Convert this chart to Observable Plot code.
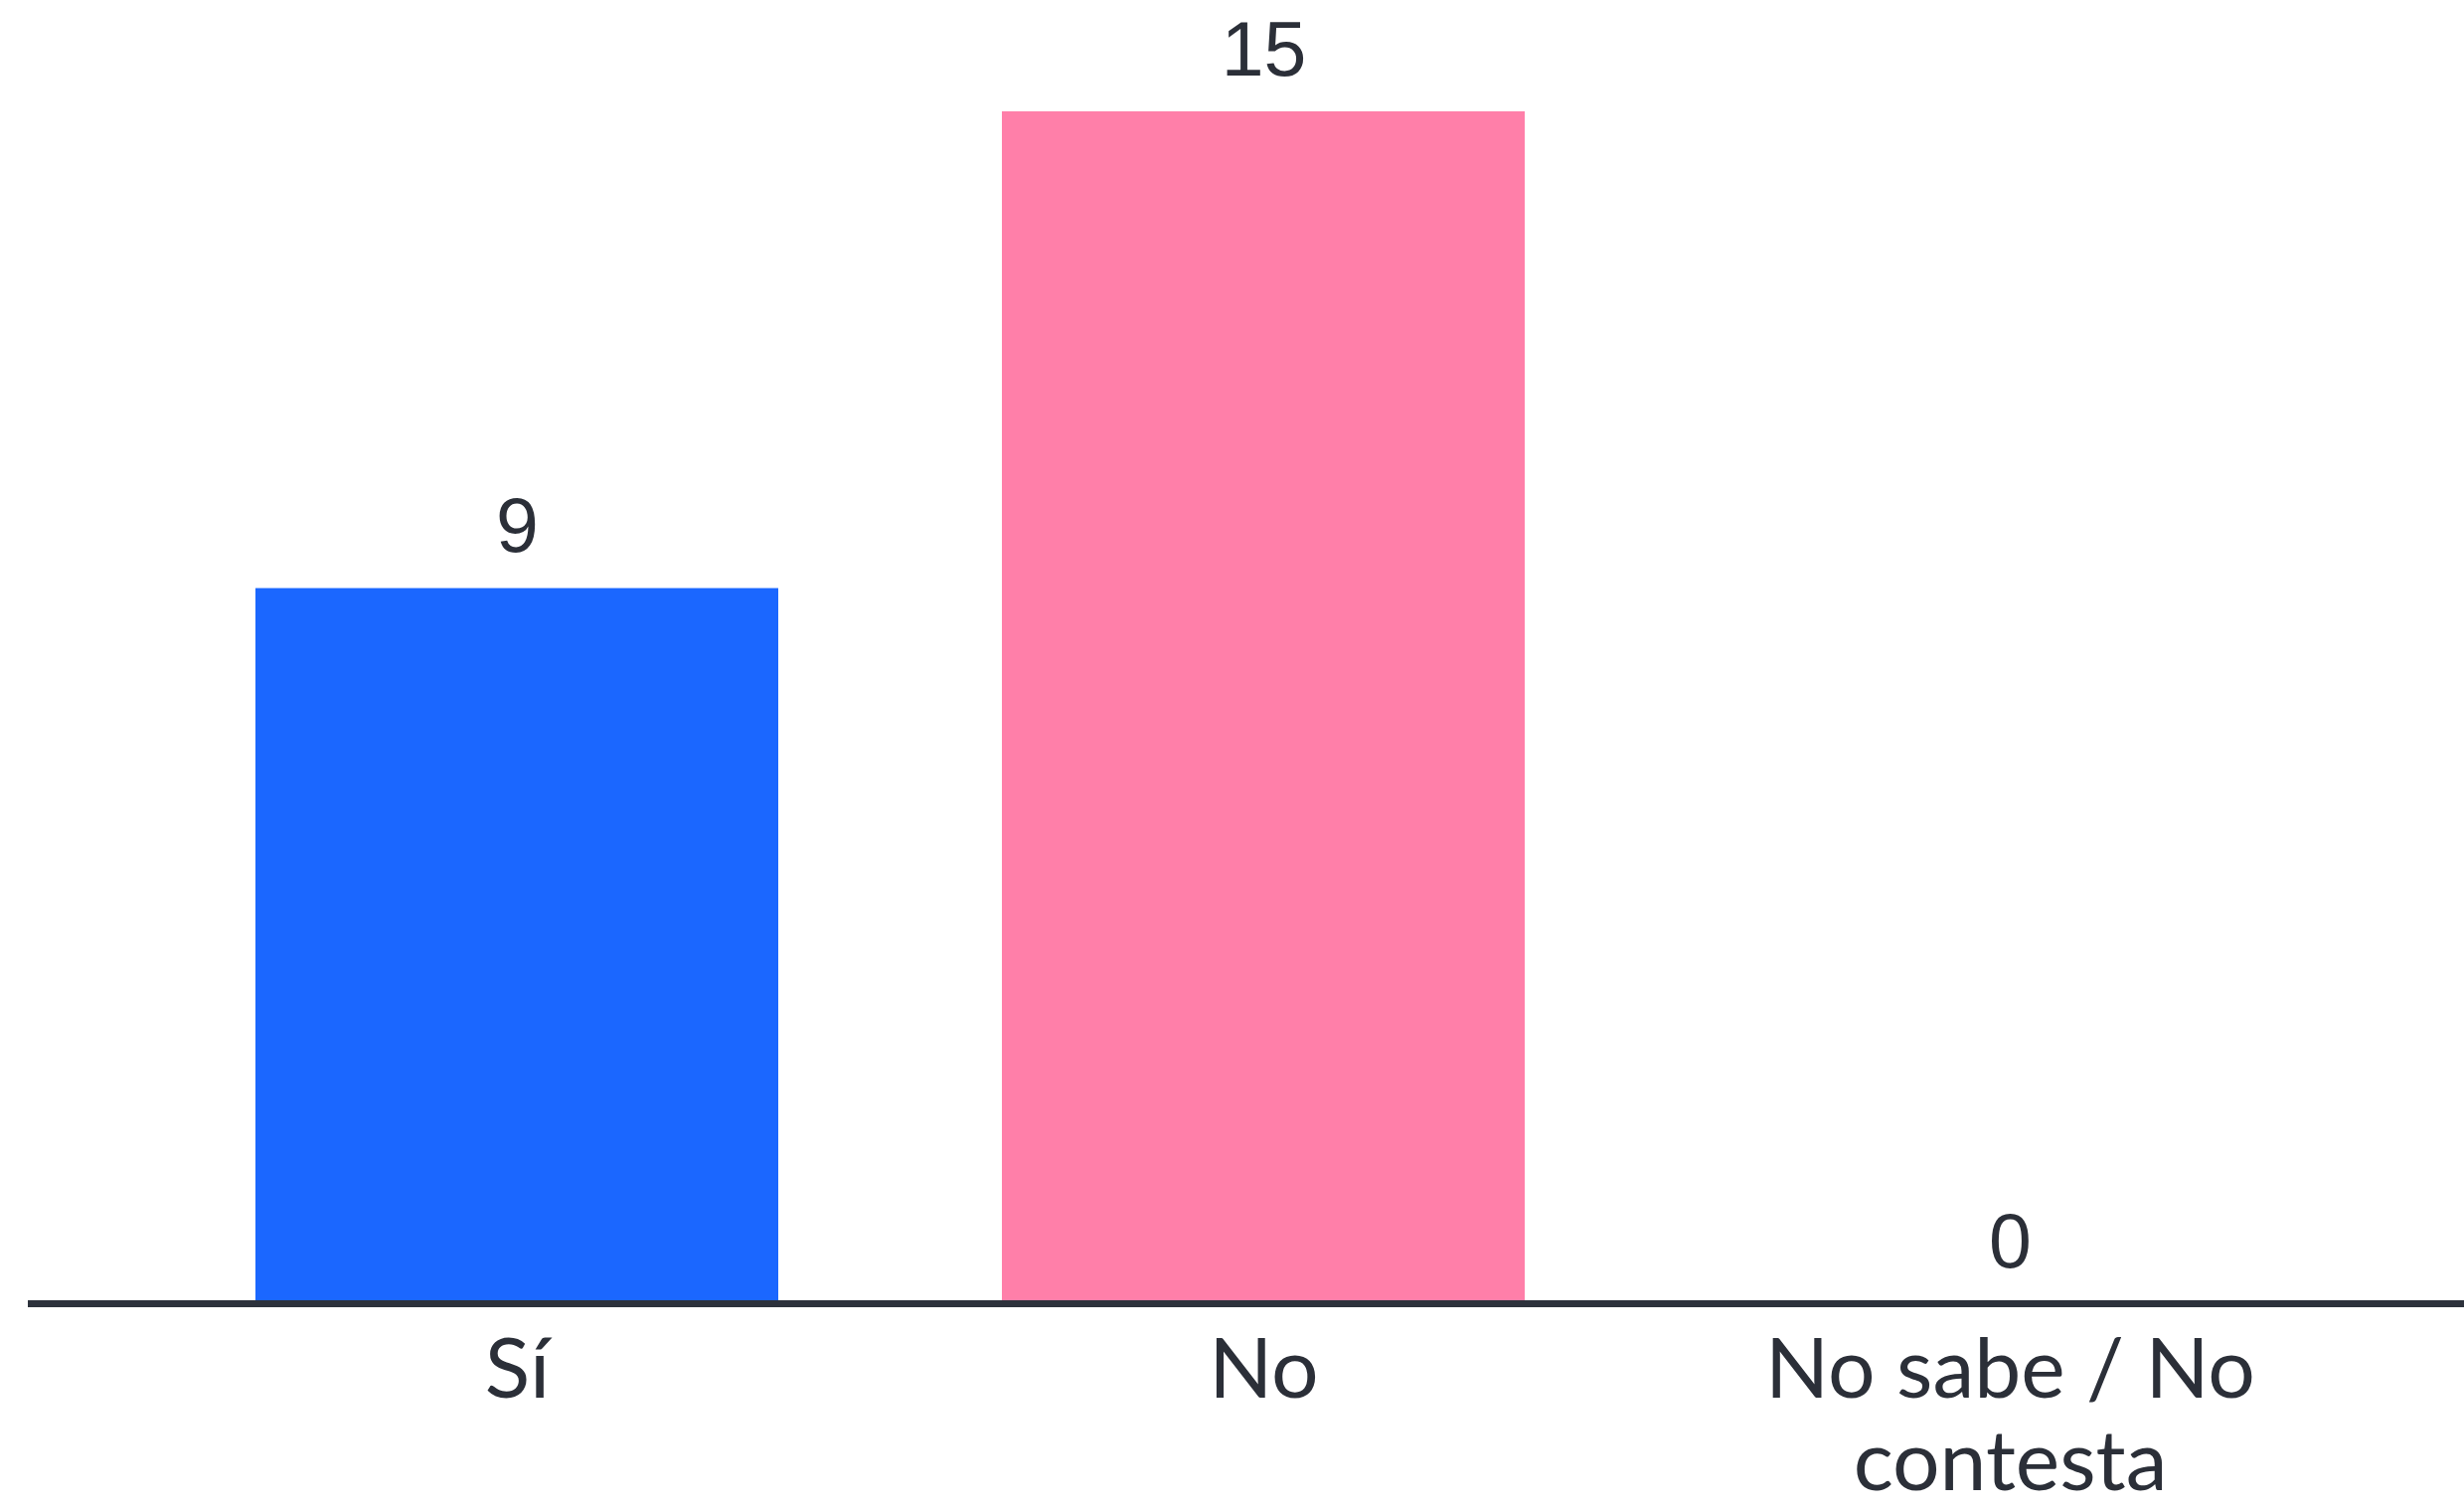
<!DOCTYPE html>
<html>
<head>
<meta charset="utf-8">
<script src="https://cdn.jsdelivr.net/npm/d3@7"></script>
<script src="https://cdn.jsdelivr.net/npm/@observablehq/plot@0.6"></script>
<style>
  html, body { margin: 0; padding: 0; background: #ffffff; }
  #chart svg { display: block; }
</style>
</head>
<body>
<div id="chart"></div>
<script>
const categories = ["Sí", "No", "No sabe / No contesta"];
const values = [9, 15, 0];
const barColors = ["#1b67ff", "#ff7fa9", "#c0c0c0"];
const tickLabels = ["Sí", "No", "No sabe / No\ncontesta"];

const data = categories.map((c, i) => ({category: c, value: values[i], color: barColors[i]}));
const labelOf = new Map(categories.map((c, i) => [c, tickLabels[i]]));

const chart = Plot.plot({
  width: 2479,
  height: 1520,
  marginLeft: 28,
  marginRight: 0,
  marginTop: 112,
  marginBottom: 209,
  style: {background: "#ffffff", color: "#2b2f38"},
  x: {domain: categories, paddingInner: 0.3, paddingOuter: 0.28, align: 0.54, label: null},
  y: {domain: [0, 15], axis: null},
  marks: [
    Plot.barY(data, {x: "category", y: "value", fill: "color"}),
    Plot.ruleY([0], {stroke: "#2d323c", strokeWidth: 7}),
    Plot.text(data, {
      x: "category", y: "value", text: d => String(d.value),
      lineAnchor: "bottom", dy: -37, fontSize: 77,
      fontFamily: "Liberation Sans, Arial, sans-serif", fill: "#2b2f38"
    }),
    Plot.axisX({
      tickSize: 0, tickPadding: 29, fontSize: 84, lineHeight: 1.1,
      fontFamily: "Lato, sans-serif", fill: "#2b2f38",
      tickFormat: d => labelOf.get(d), label: null
    })
  ]
});
document.getElementById("chart").appendChild(chart);
</script>
</body>
</html>
